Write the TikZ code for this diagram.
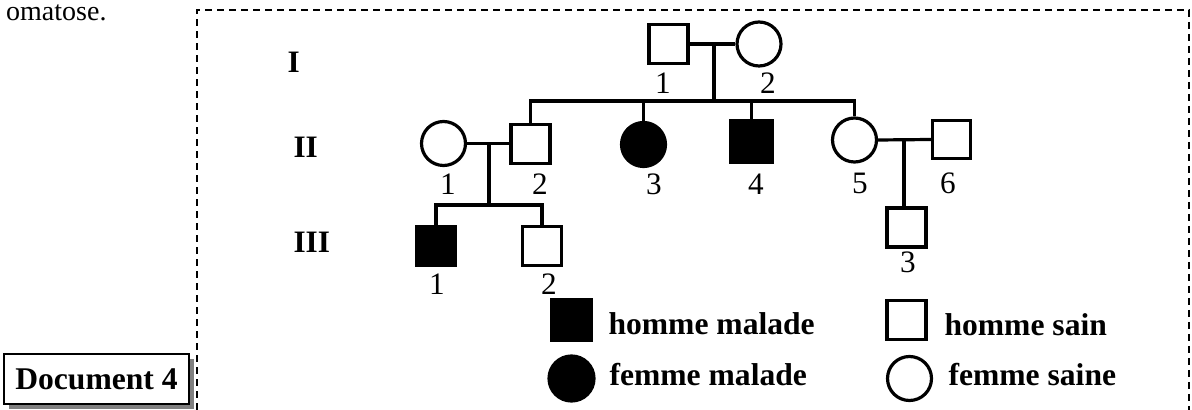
\documentclass[tikz,border=0pt]{standalone}
\usepackage{fontspec}
\setmainfont{Liberation Serif}
\begin{document}
\begin{tikzpicture}[x=0.5pt,y=-0.5pt,
  font=\fontsize{15.6}{18}\selectfont,
  line width=1.5pt,
  msq/.style={draw,rectangle,minimum size=19.5pt,inner sep=0pt,line width=1.6pt},
  fcirc/.style={draw,circle,minimum size=22pt,inner sep=0pt,line width=1.6pt},
  ill/.style={fill=black},
  num/.style={anchor=base,inner sep=0pt},
  gen/.style={anchor=base west,inner sep=0pt,font=\fontsize{15.6}{18}\selectfont\bfseries},
  leg/.style={anchor=base west,inner sep=0pt,font=\fontsize{15.8}{18}\selectfont\bfseries},
  link/.style={line width=1.6pt},
  frame/.style={line width=1pt,dash pattern=on 3.5pt off 2.5pt}
]
\useasboundingbox (0,0) rectangle (1192,410);

% text continued from previous part
\node[anchor=base east,inner sep=0pt,font=\fontsize{14}{17}\selectfont] (prev) at (108,21) {omatose.};

% dashed frame (open at bottom)
\draw[frame] (197,410) -- (197,10) -- (1189,10) -- (1189,410);

% Document 4 box with shadow
\fill[gray] (9,359) rectangle (194,409);
\node[draw,fill=white,line width=1pt,minimum width=92.5pt,minimum height=25pt,inner sep=0pt,
      font=\fontsize{15.8}{18}\selectfont\bfseries] (doc) at (96.5,379) {Document 4};

% generation labels
\node[gen] (gI) at (286,73) {I};
\node[gen] (gII) at (292,158) {II};
\node[gen] (gIII) at (292,253) {III};

% generation I
\node[msq] (I1) at (668.5,44) {};
\node[fcirc] (I2) at (759,44) {};
\node[num] (nI1) at (663,94) {1};
\node[num] (nI2) at (768,94) {2};

% generation II
\node[fcirc] (II1) at (443.5,143.5) {};
\node[msq] (II2) at (530.5,144) {};
\node[fcirc,ill] (II3) at (643.5,144.5) {};
\node[msq,ill,minimum size=20.5pt] (II4) at (751.5,141.5) {};
\node[fcirc] (II5) at (854.5,140) {};
\node[msq,minimum size=18.8pt] (II6) at (951.5,139.5) {};
\node[num] (nII1) at (448,195) {1};
\node[num] (nII2) at (540,195) {2};
\node[num] (nII3) at (654,195) {3};
\node[num] (nII4) at (756,195) {4};
\node[num] (nII5) at (860,194) {5};
\node[num] (nII6) at (948,194) {6};

% generation III
\node[msq,ill] (III1) at (436,246) {};
\node[msq] (III2) at (542,246) {};
\node[msq] (III3) at (906.5,227.5) {};
\node[num] (nIII1) at (437,295) {1};
\node[num] (nIII2) at (549,295) {2};
\node[num] (nIII3) at (908,273) {3};

% connectors
\coordinate (mI) at (714,45);
\coordinate (sI) at (714,101);
\draw[link] (I1.east) -- (I2.west);
\draw[link] (mI) -- (sI);
\draw[link] (II2.north) -- (II2.north |- sI) -- (II5.north |- sI) -- (II5.north);
\draw[link] (II3.north) -- (II3.north |- sI);
\draw[link] (II4.north) -- (II4.north |- sI);

\coordinate (mII) at (489,143);
\coordinate (sII) at (489,205);
\draw[link] (II1.east) -- (II2.west |- II1.east);
\draw[link] (mII) -- (sII);
\draw[link] (III1.north) -- (III1.north |- sII) -- (III2.north |- sII) -- (III2.north);

\coordinate (dII5) at (904,141.5);
\draw[link] (II5.east) -- (II6.west);
\draw[link] (dII5) -- (dII5 |- III3.north);

% legend
\node[msq,ill,minimum size=20pt] (L1) at (571.5,320) {};
\node[leg] (t1) at (607,335) {homme malade};
\node[fcirc,ill,minimum size=22.5pt] (L2) at (571.5,378.5) {};
\node[leg] (t2) at (608,386) {femme malade};
\node[msq] (L3) at (906.5,320) {};
\node[leg] (t3) at (943,336) {homme sain};
\node[fcirc] (L4) at (909.5,378.5) {};
\node[leg] (t4) at (947,386) {femme saine};
\end{tikzpicture}
\end{document}
